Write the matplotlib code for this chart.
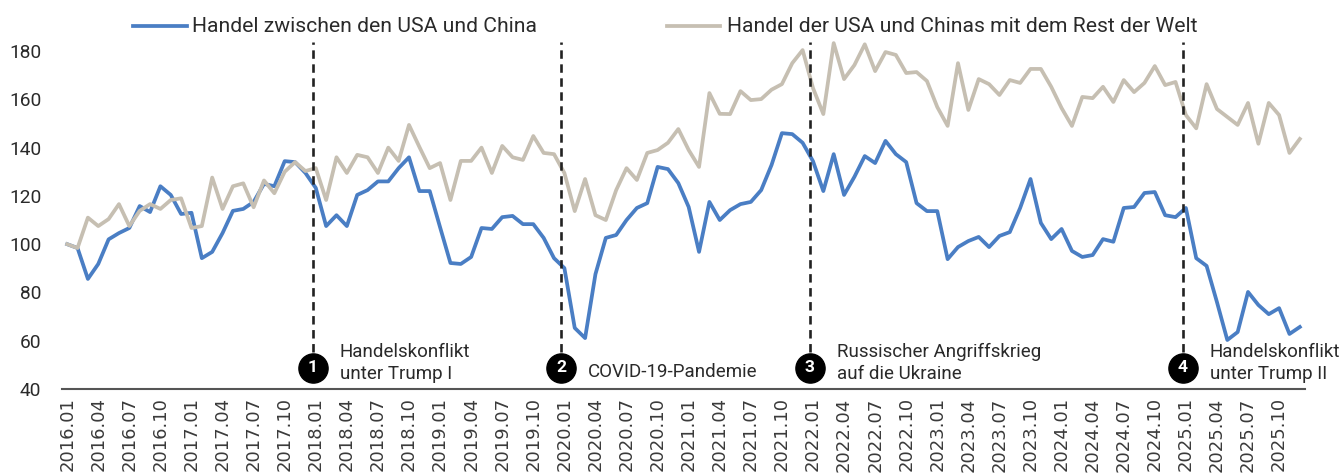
import numpy as np
import matplotlib
matplotlib.use("Agg")
import matplotlib.pyplot as plt
from matplotlib.lines import Line2D

# ---------------- data ----------------
years = list(range(2016, 2026))
categories = [f"{y}.{m:02d}" for y in years for m in range(1, 13)]

usa_china = [
    100, 98.4, 85.6, 91.8, 102, 104.6, 106.7, 115.8, 113.3, 124, 120.4, 112.5,
    113, 94.2, 96.8, 104.6, 113.8, 114.6, 117.5, 125, 124, 134.4, 134, 129.5,
    123.3, 107.5, 112, 107.5, 120.4, 122.4, 126, 126, 131.5, 136, 122, 122,
    107, 92.2, 91.8, 94.7, 106.7, 106.3, 111.2, 111.7, 108.3, 108.3, 102.6, 94.2,
    90.1, 65.3, 61.1, 87.6, 102.6, 103.8, 110, 115, 117, 132, 131.1, 125.3,
    115.4, 96.8, 117.5, 110, 114.1, 116.6, 117.5, 122.4, 132.8, 146, 145.6, 142,
    134.4, 122, 137.3, 120.4, 127.9, 136.5, 133.6, 142.8, 137.3, 134, 117, 113.7,
    113.7, 93.8, 98.8, 101.3, 103, 98.8, 103.4, 105, 115, 127, 108.8, 102.1,
    106.3, 97.2, 94.7, 95.5, 102.1, 101, 115, 115.4, 121.2, 121.6, 112, 111.2,
    115, 94.2, 91, 76, 60.3, 63.6, 80.2, 74.8, 71, 73.5, 62.8, 65.7,
]

rest_of_world = [
    100, 98.4, 111, 107.5, 110.4, 116.6, 107.5, 113.8, 116.6, 114.6, 118.3, 119,
    106.7, 107.5, 127.6, 114.6, 124, 125.2, 115.3, 126.4, 121.1, 130, 134, 130.3,
    131.5, 118.3, 136, 129.5, 137, 136, 129.5, 140, 134.5, 149.4, 140.3, 131.5,
    133.6, 118.3, 134.5, 134.5, 140, 129.5, 140.7, 136, 134.9, 144.8, 137.8, 137.3,
    129.5, 113.7, 127, 112, 110, 122.4, 131.5, 126.6, 137.8, 139, 142, 147.7,
    139, 132, 162.6, 154, 153.9, 163.4, 159.7, 160.1, 164, 166.3, 175, 180.4,
    164.7, 153.9, 183.3, 168.4, 174.2, 182.8, 171.7, 179.6, 178.4, 170.9, 171.3, 167.6,
    156.8, 149, 175, 155.6, 168.4, 166.3, 161.8, 168, 166.8, 172.6, 172.6, 165.2,
    156.4, 149, 161, 160.5, 165.2, 158.9, 168, 163, 166.8, 173.8, 165.9, 167.2,
    153.5, 148, 166.3, 156, 152.7, 149.4, 158.5, 141.6, 158.5, 153.5, 137.8, 143.6,
]

series_names = ["Handel zwischen den USA und China",
                "Handel der USA und Chinas mit dem Rest der Welt"]

event_months = ["2018.01", "2020.01", "2022.01", "2025.01"]
event_numbers = ["1", "2", "3", "4"]
event_labels = ["Handelskonflikt\nunter Trump I",
                "COVID-19-Pandemie",
                "Russischer Angriffskrieg\nauf die Ukraine",
                "Handelskonflikt\nunter Trump II"]

yticks = [40, 60, 80, 100, 120, 140, 160, 180]

# ---------------- style ----------------
BLUE = "#4A7EC4"
GREY = "#C6BFB2"
TXT = "#2a2a2a"
FONT = ["Roboto", "DejaVu Sans"]

W, H = 1343, 474
fig = plt.figure(figsize=(W / 100, H / 100), dpi=100)
ax_l, ax_r, ax_b, ax_t = 62, 1305, 389, 39
ax = fig.add_axes([ax_l / W, 1 - ax_b / H, (ax_r - ax_l) / W, (ax_b - ax_t) / H])

x = np.arange(len(categories))
ax.plot(x, usa_china, color=BLUE, lw=2.7, solid_joinstyle="round", zorder=3)
ax.plot(x, rest_of_world, color=GREY, lw=2.7, solid_joinstyle="round", zorder=3)

ax.set_xlim(-0.5, len(categories) - 0.5)
ax.set_ylim(40, 185)

# ticks
tick_idx = list(range(0, len(categories), 3))
ax.set_xticks(tick_idx)
ax.set_xticklabels([categories[i] for i in tick_idx], rotation=90,
                   fontsize=13, color="#3a3a3a", family="DejaVu Sans")
ax.set_yticks(yticks)
ax.set_yticklabels([str(v) for v in yticks], fontsize=13.8, color=TXT, family=FONT)
ax.tick_params(axis="x", length=0, pad=6)
ax.tick_params(axis="y", length=0, pad=15)

for s in ["left", "top", "right"]:
    ax.spines[s].set_visible(False)
ax.spines["bottom"].set_color("#555555")
ax.spines["bottom"].set_linewidth(1.5)

# events
circle_y = 48.7
for mon, num, lab in zip(event_months, event_numbers, event_labels):
    xe = categories.index(mon) - 0.3
    ax.plot([xe, xe], [55.2, 183.7], color="#222222", lw=1.9,
            linestyle=(0, (3.2, 2.1)), zorder=4, clip_on=False)
    ax.plot([xe], [circle_y], marker="o", ms=21, color="black", zorder=5, clip_on=False)
    ax.text(xe, circle_y, num, color="white", ha="center", va="center",
            fontsize=12.5, fontweight="bold", family=FONT, zorder=6)
    dy = -2.9 if "\n" not in lab else 3.6
    ax.annotate(lab, xy=(xe, circle_y), xytext=(19.5, dy), textcoords="offset points",
                ha="left", va="center", fontsize=13.5, color=TXT, family=FONT,
                linespacing=1.25, annotation_clip=False)

# legend (manual placement)
ly = 1 - 26 / H
for (x0, x1, xt), col, name in zip([(133, 187, 192), (667, 720, 727)], [BLUE, GREY], series_names):
    fig.add_artist(Line2D([x0 / W, x1 / W], [ly, ly], color=col, lw=2.7,
                          transform=fig.transFigure))
    fig.text(xt / W, ly, name, ha="left", va="center", fontsize=15.2,
             color=TXT, family=FONT)

fig.savefig("out.png", dpi=100)
